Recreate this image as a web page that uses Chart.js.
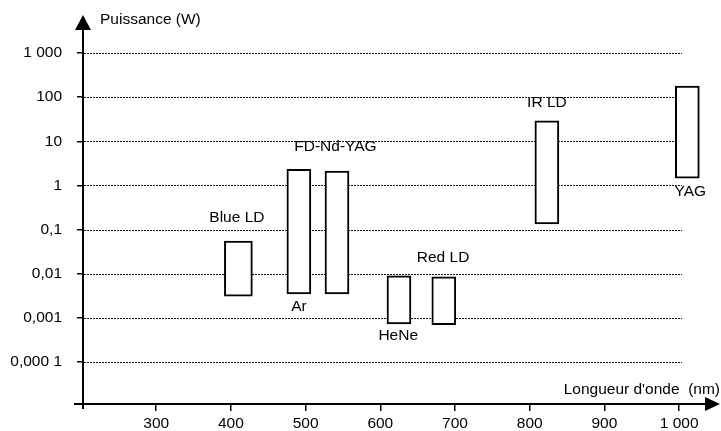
<!DOCTYPE html>
<html>
<head>
<meta charset="utf-8">
<script src="https://cdn.jsdelivr.net/npm/chart.js@4.4.0/dist/chart.umd.min.js"></script>
<style>
  html, body { margin: 0; padding: 0; background: #fff; }
</style>
</head>
<body>
<canvas id="laserChart" width="721" height="431"></canvas>
<script>
// laser sources : wavelength (nm) and power range (W)
var sources  = ['Blue LD', 'Ar', 'FD-Nd-YAG', 'HeNe', 'Red LD', 'IR LD', 'YAG'];
var lambdaNm = [410, 491, 542, 625, 685, 823, 1011];
var powerMin = [0.0031, 0.0035, 0.0035, 0.00073, 0.0007, 0.134, 1.45];
var powerMax = [0.055, 2.3, 2.1, 0.0089, 0.0085, 29, 177];

// where each name is written (nm, W)
var labelNm = [408, 491, 540, 624, 684, 823, 1015];
var labelW  = [0.19, 0.0018, 7.4, 0.00039, 0.023, 73, 0.71];

var xTicks      = [300, 400, 500, 600, 700, 800, 900, 1000];
var xTickLabels = ['300', '400', '500', '600', '700', '800', '900', '1 000'];
var yTicks      = [0.0001, 0.001, 0.01, 0.1, 1, 10, 100, 1000];
var yTickLabels = ['0,000 1', '0,001', '0,01', '0,1', '1', '10', '100', '1 000'];

var xTitle = "Longueur d'onde  (nm)";
var yTitle = 'Puissance (W)';
var gridEndNm = 1004;

var FONT = '15.5px "Liberation Sans", Arial, sans-serif';
Chart.defaults.font.family = '"Liberation Sans", Arial, sans-serif';
Chart.defaults.font.size = 15.5;
Chart.defaults.color = '#000';

var datasets = [];
for (var i = 0; i < sources.length; i++) {
  datasets.push({
    label: sources[i],
    data: [{ x: lambdaNm[i], y: [powerMin[i], powerMax[i]] }],
    backgroundColor: '#fff',
    borderColor: '#000',
    borderWidth: 2,
    borderSkipped: false,
    barThickness: i === 0 ? 28 : 24,
    grouped: false
  });
}

var decor = {
  id: 'decor',
  beforeDatasetsDraw: function (chart) {
    var ctx = chart.ctx, ca = chart.chartArea;
    var xs = chart.scales.x, ys = chart.scales.y;
    var xEnd = xs.getPixelForValue(gridEndNm);
    ctx.save();
    ctx.strokeStyle = '#111';
    ctx.lineWidth = 1;
    ctx.setLineDash([2, 1]);
    yTicks.forEach(function (v) {
      var y = Math.round(ys.getPixelForValue(v)) + 0.5;
      ctx.beginPath();
      ctx.moveTo(ca.left + 1, y);
      ctx.lineTo(xEnd, y);
      ctx.stroke();
    });
    ctx.restore();
  },
  afterDraw: function (chart) {
    var ctx = chart.ctx, ca = chart.chartArea;
    var xs = chart.scales.x, ys = chart.scales.y;
    ctx.save();
    ctx.strokeStyle = '#000';
    ctx.fillStyle = '#000';
    ctx.lineWidth = 2;
    // small overshoot of the axes at the origin
    ctx.beginPath();
    ctx.moveTo(ca.left, ca.bottom); ctx.lineTo(ca.left, ca.bottom + 5);
    ctx.moveTo(ca.left - 9, ca.bottom); ctx.lineTo(ca.left, ca.bottom);
    ctx.stroke();
    // arrows
    ctx.beginPath();
    ctx.moveTo(ca.left, ca.top - 14);
    ctx.lineTo(ca.left - 8, ca.top + 1);
    ctx.lineTo(ca.left + 8, ca.top + 1);
    ctx.closePath();
    ctx.fill();
    ctx.beginPath();
    ctx.moveTo(ca.right + 14, ca.bottom);
    ctx.lineTo(ca.right - 1, ca.bottom - 7);
    ctx.lineTo(ca.right - 1, ca.bottom + 7);
    ctx.closePath();
    ctx.fill();

    ctx.font = FONT;
    ctx.textBaseline = 'middle';
    ctx.textAlign = 'left';
    ctx.fillText(yTitle, ca.left + 17, ca.top - 9);
    ctx.textAlign = 'right';
    ctx.fillText(xTitle, ca.right + 14, ca.bottom - 14);

    ctx.textAlign = 'center';
    for (var i = 0; i < sources.length; i++) {
      ctx.fillText(sources[i], xs.getPixelForValue(labelNm[i]), ys.getPixelForValue(labelW[i]));
    }
    ctx.restore();
  }
};

new Chart(document.getElementById('laserChart').getContext('2d'), {
  type: 'bar',
  data: { datasets: datasets },
  options: {
    responsive: false,
    animation: false,
    layout: { padding: { top: 29, right: 15, left: 0, bottom: 0 } },
    plugins: { legend: { display: false }, tooltip: { enabled: false } },
    scales: {
      x: {
        type: 'linear',
        min: 202,
        max: 1036,
        bounds: 'data',
        offset: false,
        afterBuildTicks: function (scale) {
          scale.ticks = xTicks.map(function (v) { return { value: v }; });
        },
        afterFit: function (scale) { scale.height = 27; },
        ticks: {
          autoSkip: false,
          maxRotation: 0,
          padding: 3,
          callback: function (v, i) { return xTickLabels[i]; }
        },
        grid: { offset: false, drawOnChartArea: false, drawTicks: true, tickLength: 7, color: '#000', lineWidth: 1.5 },
        border: { display: true, color: '#000', width: 2 }
      },
      y: {
        type: 'logarithmic',
        min: 1.117e-5,
        max: 3493,
        bounds: 'data',
        afterBuildTicks: function (scale) {
          scale.ticks = yTicks.map(function (v) { return { value: v }; });
        },
        afterFit: function (scale) { scale.width = 83; },
        ticks: {
          autoSkip: false,
          padding: 15,
          callback: function (v, i) { return yTickLabels[i]; }
        },
        grid: { drawOnChartArea: false, drawTicks: true, tickLength: 6, color: '#000', lineWidth: 1.5 },
        border: { display: true, color: '#000', width: 2 }
      }
    }
  },
  plugins: [decor]
});
</script>
</body>
</html>
